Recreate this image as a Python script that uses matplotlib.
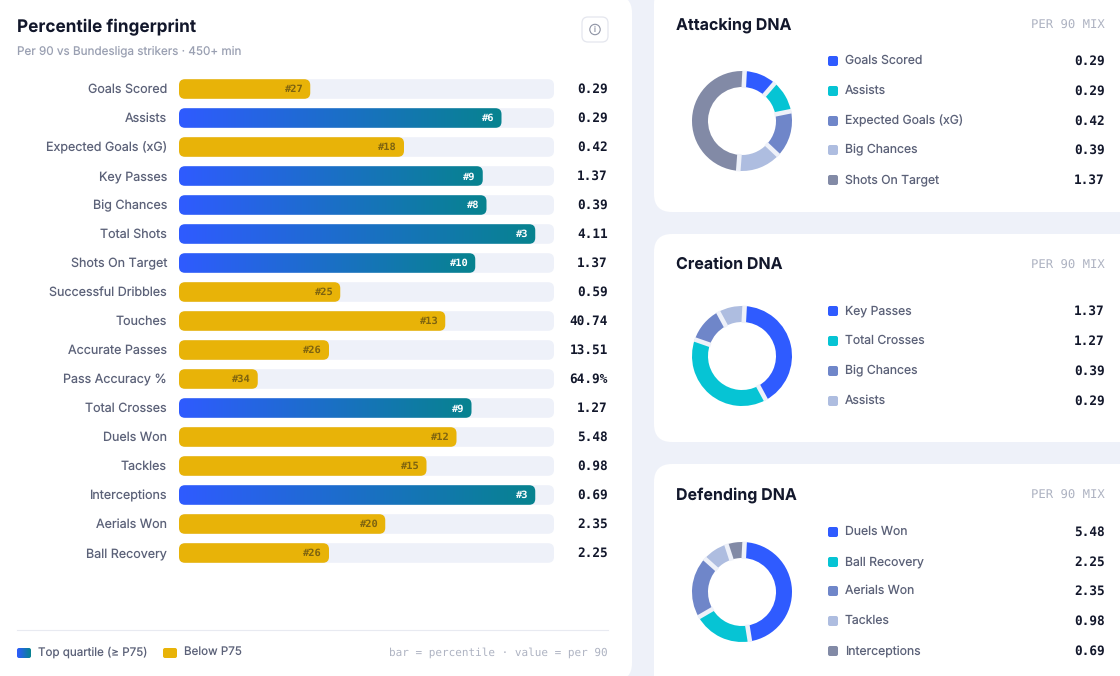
import matplotlib
matplotlib.use("Agg")
import matplotlib.pyplot as plt
import numpy as np
from matplotlib.colors import LinearSegmentedColormap
from matplotlib.patches import Circle, FancyBboxPatch

plt.rcParams["text.hinting"] = "no_hinting"

metrics = ["Goals Scored", "Assists", "Expected Goals (xG)", "Key Passes", "Big Chances",
           "Total Shots", "Shots On Target", "Successful Dribbles", "Touches", "Accurate Passes",
           "Pass Accuracy %", "Total Crosses", "Duels Won", "Tackles", "Interceptions",
           "Aerials Won", "Ball Recovery"]
percentiles = [35, 86, 60, 81, 82, 95, 79, 43, 71, 40, 21, 78, 74, 66, 95, 55, 40]
ranks = [27, 6, 18, 9, 8, 3, 10, 25, 13, 26, 34, 9, 12, 15, 3, 20, 26]
per90 = ["0.29", "0.29", "0.42", "1.37", "0.39", "4.11", "1.37", "0.59", "40.74", "13.51",
         "64.9%", "1.27", "5.48", "0.98", "0.69", "2.35", "2.25"]

attack_names = ["Goals Scored", "Assists", "Expected Goals (xG)", "Big Chances", "Shots On Target"]
attack_vals = [0.29, 0.29, 0.42, 0.39, 1.37]
create_names = ["Key Passes", "Total Crosses", "Big Chances", "Assists"]
create_vals = [1.37, 1.27, 0.39, 0.29]
defend_names = ["Duels Won", "Ball Recovery", "Aerials Won", "Tackles", "Interceptions"]
defend_vals = [5.48, 2.25, 2.35, 0.98, 0.69]

BG = "#eef1f9"
INK = "#12172b"
LABEL = "#5b6178"
MUTED = "#9aa0b2"
FAINT = "#aeb3c2"
GOLD = "#e8b308"
donut_colors = ["#2f5bff", "#06c4d4", "#6f86c9", "#aebde0", "#828aa6"]
grad = LinearSegmentedColormap.from_list("topq", ["#2f5bff", "#07838f"])
W, H = 1120, 676
SANS = "Inter"
MONO = "DejaVu Sans Mono"


def px(size):
    return size * 0.72


fig = plt.figure(figsize=(W / 100, H / 100), dpi=100, facecolor=BG)

# page layer in pixel coordinates
bg = fig.add_axes([0, 0, 1, 1])
bg.set_xlim(0, W)
bg.set_ylim(H, 0)
bg.axis("off")


def card(x0, y0, x1, y1, r=18):
    bg.add_patch(FancyBboxPatch((x0 + r, y0 + r), x1 - x0 - 2 * r, y1 - y0 - 2 * r,
                                boxstyle=f"round,pad={r},rounding_size={r}",
                                fc="white", ec="none"))


card(-30, -5, 632, 681)
card(654, -14, 1160, 212)
card(654, 234, 1160, 442)
card(654, 464, 1160, 720)

bg.text(17, 27.5, "Percentile fingerprint", fontsize=px(17.2), fontweight="bold", color=INK,
        family=SANS, va="center")
bg.text(17, 51.5, "Per 90 vs Bundesliga strikers · 450+ min", fontsize=px(11.7), color=MUTED,
        family=SANS, va="center")

# info button
bg.add_patch(FancyBboxPatch((588, 23), 14, 13, boxstyle="round,pad=6,rounding_size=6",
                            fc="white", ec="#e4e6ee", lw=0.9))
bg.add_patch(Circle((595, 29.5), 5.2, fc="none", ec="#8d92a3", lw=0.8))
bg.text(595, 29.7, "i", fontsize=px(8), color="#8d92a3", family=SANS, ha="center", va="center")

# percentile bars
ax = fig.add_axes([179 / W, 1 - 567.5 / H, 375 / W, 493 / H])
ax.set_xlim(0, 100)
ax.set_ylim(16.5, -0.5)
ax.axis("off")
ax.patch.set_alpha(0)
aspect = (1 / 29) / (100 / 375)
rx = 6 * 100 / 375
half = 9.8 / 29


def pill(ax, x, y, w, color):
    p = FancyBboxPatch((rx, y - half + rx * aspect), w - 2 * rx, 2 * half - 2 * rx * aspect,
                       boxstyle=f"round,pad={rx},rounding_size={rx}", mutation_aspect=aspect,
                       fc=color, ec="none", zorder=2)
    ax.add_patch(p)
    return p


for i, (name, pct, rank, val) in enumerate(zip(metrics, percentiles, ranks, per90)):
    pill(ax, 0, i, 100, BG)
    top = pct >= 75
    p = pill(ax, 0, i, pct, "none" if top else GOLD)
    if top:
        im = ax.imshow(np.linspace(0, 1, 256).reshape(1, -1), cmap=grad, aspect="auto",
                       extent=(0, pct, i + half, i - half), zorder=3)
        im.set_clip_path(p)
    ax.text(pct - 7 * 100 / 375, i + 0.02, f"#{rank}", ha="right", va="center", family=MONO,
            fontweight="bold", fontsize=px(10.4), color="white" if top else "#7d6310", zorder=4)
    ax.text(-12 * 100 / 375, i + 0.02, name, ha="right", va="center", family=SANS,
            fontsize=px(12.5), color=LABEL, clip_on=False)
    ax.text(114.4, i + 0.02, val, ha="right", va="center", family=MONO, fontweight="bold",
            fontsize=px(12.8), color=INK, clip_on=False)
ax.set_xlim(0, 100)
ax.set_ylim(16.5, -0.5)

# footer
bg.plot([17, 608], [629.5, 629.5], color="#e8eaf1", lw=0.8)
leg = fig.add_axes([17 / W, 1 - 658 / H, 14 / W, 10 / H])
leg.axis("off")
leg.set_xlim(0, 14)
leg.set_ylim(0, 10)
sw = FancyBboxPatch((2, 2), 10, 6, boxstyle="round,pad=2,rounding_size=2", fc="none", ec="none")
leg.add_patch(sw)
im = leg.imshow(np.linspace(0, 1, 64).reshape(1, -1), cmap=grad, aspect="auto", extent=(0, 14, 0, 10))
im.set_clip_path(sw)
bg.add_patch(FancyBboxPatch((165, 650), 10, 6, boxstyle="round,pad=2,rounding_size=2", fc=GOLD, ec="none"))
bg.text(38, 652, "Top quartile (≥ P75)", fontsize=px(11.6), color=LABEL, family=SANS, va="center")
bg.text(184, 652, "Below P75", fontsize=px(11.6), color=LABEL, family=SANS, va="center")
bg.text(608, 653, "bar = percentile · value = per 90", fontsize=px(11), color=FAINT, family=MONO,
        ha="right", va="center")


def donut(cx, cy, vals):
    size = 52
    a = fig.add_axes([(cx - size) / W, 1 - (cy + size) / H, 2 * size / W, 2 * size / H])
    wedges, _ = a.pie(vals, colors=donut_colors, startangle=87, counterclock=False,
                      radius=1, wedgeprops=dict(width=0.32, linewidth=0))
    for w in wedges:
        t = np.deg2rad(w.theta1)
        a.plot([0.66 * np.cos(t), 1.01 * np.cos(t)], [0.66 * np.sin(t), 1.01 * np.sin(t)],
               color=BG, lw=3.3, solid_capstyle="butt")
    a.set_xlim(-1.04, 1.04)
    a.set_ylim(-1.04, 1.04)
    a.patch.set_alpha(0)


def dna_card(title, title_y, names, vals, rows, cy):
    bg.text(676, title_y, title, fontsize=px(16), fontweight="bold", color=INK, family=SANS, va="center")
    bg.text(1105, title_y, "PER 90 MIX", fontsize=px(12.2), color=FAINT, family=MONO, ha="right", va="center")
    donut(742, cy, vals)
    for name, v, y, c in zip(names, vals, rows, donut_colors):
        bg.add_patch(FancyBboxPatch((830, y - 3), 6, 6, boxstyle="round,pad=2,rounding_size=2", fc=c, ec="none"))
        bg.text(845, y, name, fontsize=px(12.2), color=LABEL, family=SANS, va="center")
        bg.text(1105, y + 0.5, f"{v:.2f}", fontsize=px(12.8), fontweight="bold", color=INK,
                family=MONO, ha="right", va="center")


dna_card("Attacking DNA", 25, attack_names, attack_vals, [61, 91, 121, 150, 180], 121)
dna_card("Creation DNA", 265, create_names, create_vals, [311, 341, 371, 401], 356)
dna_card("Defending DNA", 495, defend_names, defend_vals, [532, 562, 591, 621, 651], 592)

fig.savefig("out.png", dpi=100, facecolor=BG)
